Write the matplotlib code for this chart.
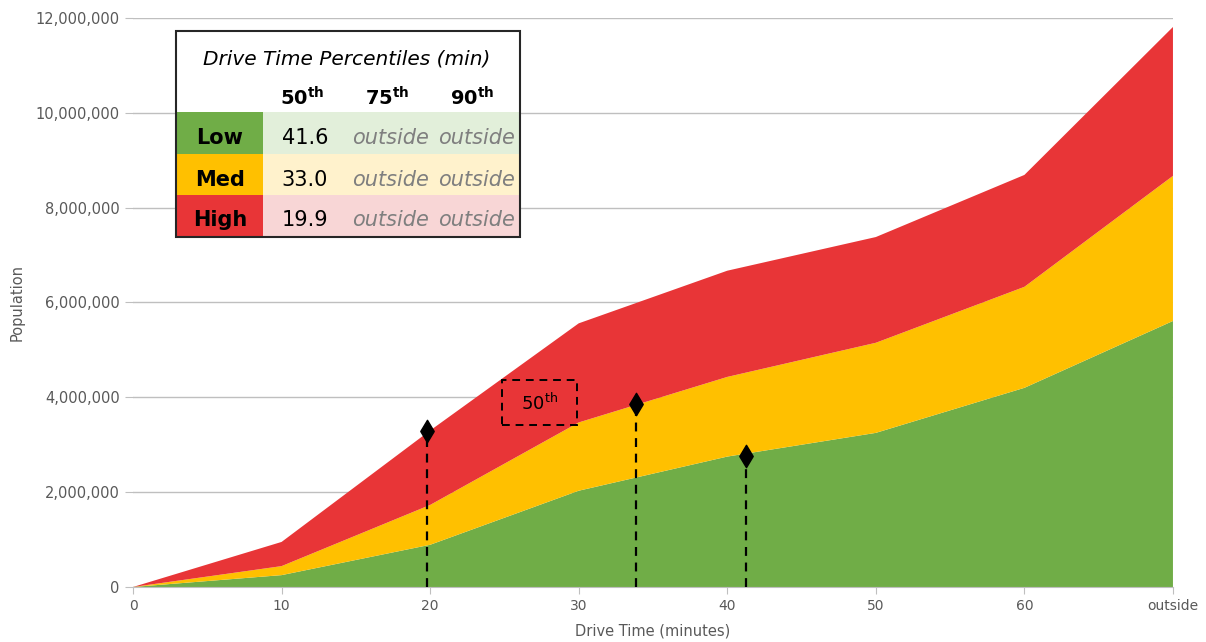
import matplotlib
matplotlib.use("Agg")
import matplotlib.pyplot as plt
from matplotlib.patches import Rectangle
from matplotlib.ticker import FuncFormatter

# drive time bins (70 = "outside")
drive_time = [0, 10, 20, 30, 40, 50, 60, 70]
tick_labels = ["0", "10", "20", "30", "40", "50", "60", "outside"]

# population per group (stacked)
pop_low = [0, 250000, 890000, 2030000, 2750000, 3250000, 4200000, 5610000]
pop_med = [0, 190000, 840000, 1440000, 1680000, 1900000, 2130000, 3060000]
pop_high = [0, 510000, 1570000, 2090000, 2240000, 2230000, 2360000, 3140000]

# 50th percentile markers
marker_x = [19.8, 33.85, 41.25]
marker_y = [3300000, 3860000, 2770000]

# table contents
groups = ["Low", "Med", "High"]
pct_heads = ["50", "75", "90"]
pct_50 = ["41.6", "33.0", "19.9"]
pct_75 = ["outside", "outside", "outside"]
pct_90 = ["outside", "outside", "outside"]

plt.rcParams["font.family"] = ["DejaVu Sans"]
plt.rcParams["mathtext.fontset"] = "custom"
plt.rcParams["mathtext.rm"] = "DejaVu Sans"
plt.rcParams["mathtext.bf"] = "DejaVu Sans:bold"

green = "#70AD47"
yellow = "#FFC000"
red = "#E83537"
grey = "#595959"

fig = plt.figure(figsize=(12.06, 6.42), dpi=100)
ax = fig.add_axes([0.1103, 0.0857, 0.8623, 0.8863])

ax.stackplot(drive_time, pop_low, pop_med, pop_high,
             colors=[green, yellow, red], zorder=2)

for x, y in zip(marker_x, marker_y):
    ax.plot([x, x], [0, y], color="black", ls=(0, (4, 3)), lw=1.6, zorder=3)
ax.scatter(marker_x, marker_y, marker="d", s=130, color="black", zorder=4)

# "50th" dashed box
ax.add_patch(Rectangle((24.85, 3410000), 5.05, 950000, fc="none", ec="black",
                       lw=1.4, ls=(0, (4, 3)), zorder=5))
ax.text(27.35, 3880000, r"50$^{\mathrm{th}}$", fontsize=13, ha="center", va="center",
        color="black", zorder=5)

ax.set_xlim(0, 70)
ax.set_ylim(0, 12000000)
ax.set_xticks(drive_time)
ax.set_xticklabels(tick_labels)
ax.set_yticks(range(0, 12000001, 2000000))
ax.yaxis.set_major_formatter(FuncFormatter(lambda v, p: f"{int(v):,}"))
ax.grid(axis="y", color="#BFBFBF", lw=1, zorder=0)
ax.set_axisbelow(True)
for s in ["top", "right", "left"]:
    ax.spines[s].set_visible(False)
ax.spines["bottom"].set_color("#BFBFBF")
ax.tick_params(axis="x", colors="#BFBFBF", labelcolor=grey, labelsize=10, length=5, pad=4)
ax.tick_params(axis="y", colors="#BFBFBF", labelcolor=grey, labelsize=10.5, length=6)
ax.set_xlabel("Drive Time (minutes)", fontsize=10.5, color=grey, labelpad=7)
ax.set_ylabel("Population", fontsize=10.5, color=grey, labelpad=8)

# table overlay in pixel space
tb = fig.add_axes([0, 0, 1, 1], facecolor="none")
tb.set_xlim(0, 1206)
tb.set_ylim(642, 0)
tb.axis("off")

tb.add_patch(Rectangle((176, 31), 344, 206, fc="white", ec="none", zorder=1))
dark = [green, yellow, red]
light = ["#E2EFDA", "#FFF2CC", "#F8D6D6"]
row_top = [112, 154, 195]
row_h = [42, 41, 41]
for i in range(3):
    tb.add_patch(Rectangle((177, row_top[i]), 86, row_h[i], fc=dark[i], ec="none", zorder=2))
    tb.add_patch(Rectangle((263, row_top[i]), 256, row_h[i], fc=light[i], ec="none", zorder=2))
    cy = row_top[i] + row_h[i] / 2 + 5
    tb.text(220, cy, groups[i], fontsize=15, fontweight="bold", ha="center", va="center", zorder=3)
    tb.text(305, cy, pct_50[i], fontsize=15, ha="center", va="center", zorder=3)
    tb.text(390, cy, pct_75[i], fontsize=15, style="italic", color="#7F7F7F",
            ha="center", va="center", zorder=3)
    tb.text(476, cy, pct_90[i], fontsize=15, style="italic", color="#7F7F7F",
            ha="center", va="center", zorder=3)
tb.add_patch(Rectangle((176, 31), 344, 206, fc="none", ec="#262626", lw=1.5, zorder=4))
tb.text(347, 59, "Drive Time Percentiles (min)", fontsize=14.5, style="italic",
        ha="center", va="center", zorder=3)
for hx, h in zip([302, 387, 472], pct_heads):
    tb.text(hx, 98, r"$\mathbf{" + h + r"}^{\mathbf{th}}$", fontsize=14,
            ha="center", va="center", zorder=3)

fig.savefig("out.png", dpi=100)
